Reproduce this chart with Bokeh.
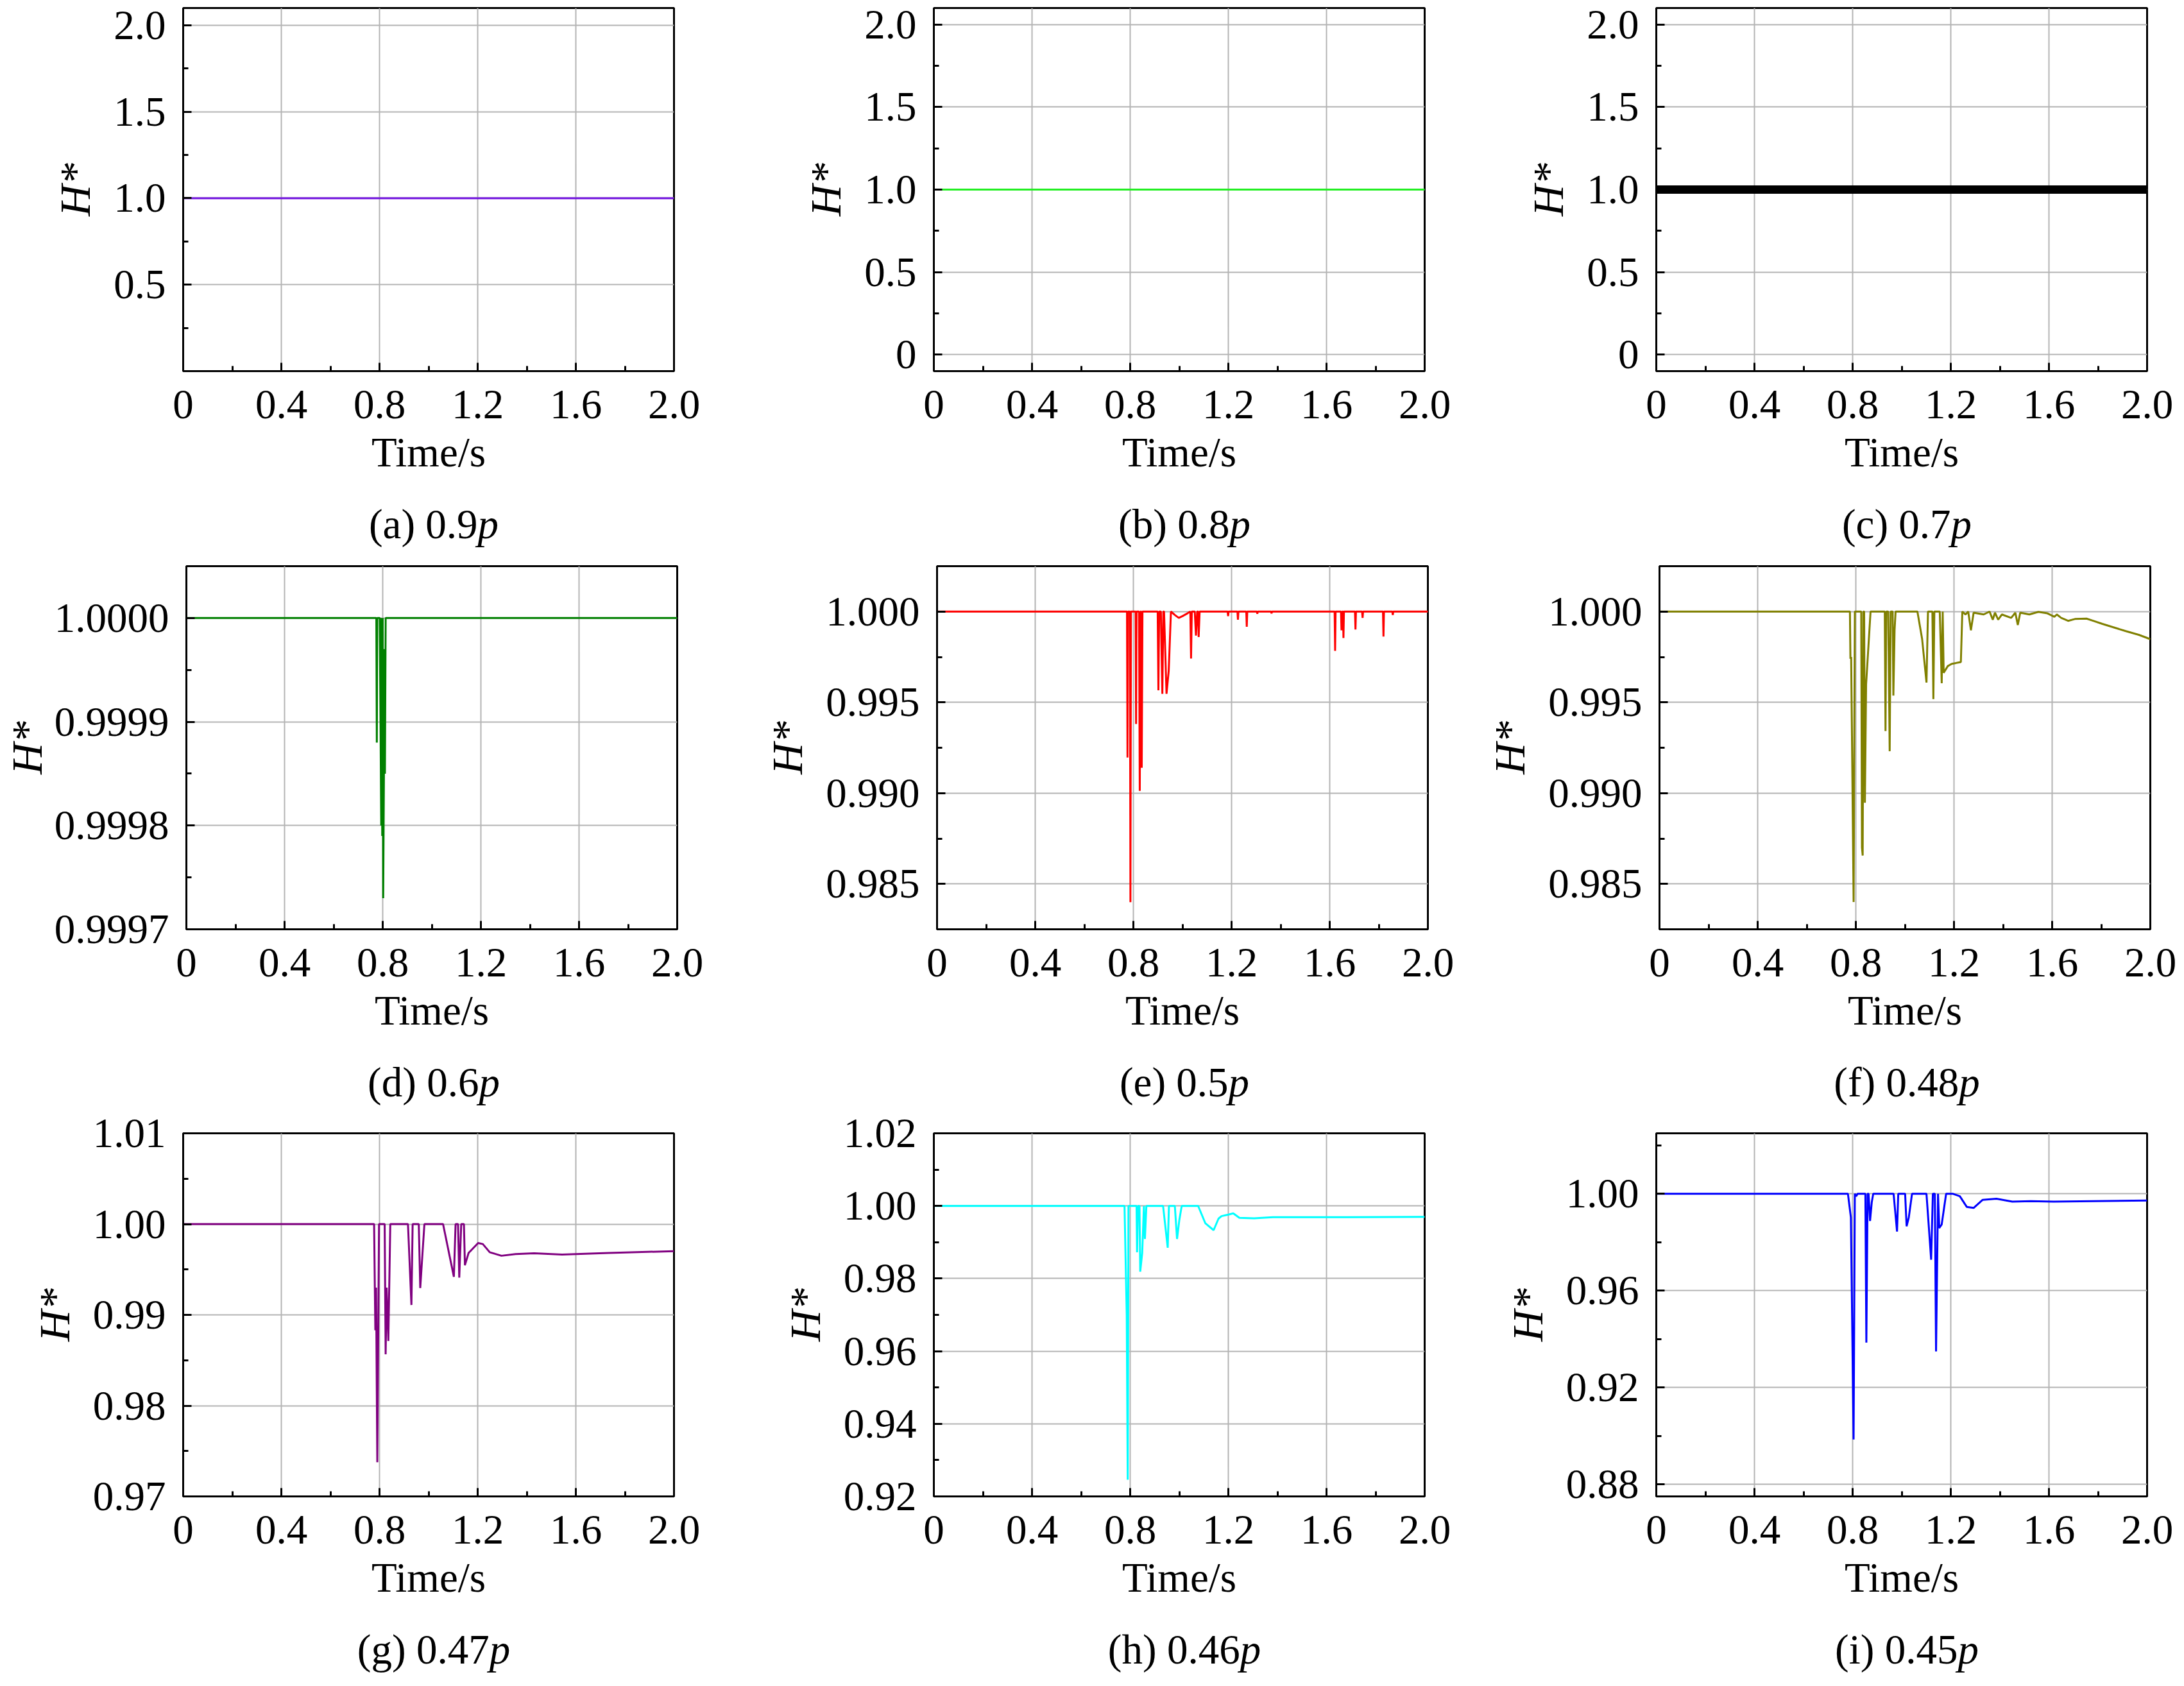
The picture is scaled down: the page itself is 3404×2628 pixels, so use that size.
from bokeh.plotting import figure
from bokeh.models import FixedTicker, Range1d
from bokeh.layouts import column, row
from bokeh.core.properties import value
from bokeh.embed import file_html
from bokeh.resources import INLINE

FONT = "Liberation Serif"

# ---------------- data ----------------
x_ticks = [0, 0.4, 0.8, 1.2, 1.6, 2.0]
x_tick_labels = ["0", "0.4", "0.8", "1.2", "1.6", "2.0"]
x_minor = [0.2, 0.6, 1.0, 1.4, 1.8]

letters = ["a", "b", "c", "d", "e", "f", "g", "h", "i"]
ratios = ["0.9", "0.8", "0.7", "0.6", "0.5", "0.48", "0.47", "0.46", "0.45"]
colors = ["#7010e0", "#22ee22", "#000000", "#008000", "#ff0000",
          "#808000", "#800080", "#00ffff", "#0000ff"]

a_series = [(0.0, 1.0), (2.0, 1.0)]
b_series = [(0.0, 1.0), (2.0, 1.0)]
c_series = [(0.0, 1.0), (2.0, 1.0)]

d_series = [(0.0, 1.0), (0.774, 1.0), (0.776, 0.99988), (0.778, 1.0),
            (0.788, 1.0), (0.791, 0.99990), (0.794, 0.99980), (0.796, 1.0),
            (0.798, 0.99979), (0.800, 1.0), (0.802, 0.99973), (0.805, 0.99985),
            (0.807, 0.99997), (0.809, 0.99985), (0.812, 1.0), (2.0, 1.0)]

e_series = [(0.0, 1.0), (0.774, 1.0), (0.776, 0.99196), (0.778, 1.0),
            (0.786, 1.0), (0.788, 0.98399), (0.790, 1.0),
            (0.809, 1.0), (0.811, 0.99381), (0.813, 1.0),
            (0.823, 1.0), (0.826, 0.99012), (0.829, 1.0), (0.832, 1.0),
            (0.834, 0.99140), (0.837, 1.0),
            (0.899, 1.0), (0.902, 0.99566), (0.905, 1.0), (0.912, 1.0),
            (0.918, 0.99547), (0.922, 1.0), (0.925, 1.0), (0.935, 0.99547),
            (0.944, 0.99673), (0.953, 1.0), (0.970, 0.99980), (0.985, 0.99965),
            (1.000, 0.99975), (1.020, 0.99990), (1.032, 1.0), (1.035, 0.99741),
            (1.038, 1.0), (1.050, 1.0), (1.055, 0.99868), (1.060, 1.0),
            (1.064, 1.0), (1.066, 0.99860), (1.070, 1.0),
            (1.184, 1.0), (1.186, 0.99975), (1.188, 1.0),
            (1.224, 1.0), (1.226, 0.99955), (1.228, 1.0),
            (1.260, 1.0), (1.262, 0.99916), (1.264, 1.0),
            (1.303, 1.0), (1.305, 0.99988), (1.307, 1.0),
            (1.361, 1.0), (1.363, 0.99990), (1.365, 1.0),
            (1.620, 1.0), (1.622, 0.99784), (1.624, 1.0),
            (1.646, 1.0), (1.648, 0.99897), (1.651, 1.0),
            (1.654, 1.0), (1.656, 0.99854), (1.658, 1.0),
            (1.703, 1.0), (1.705, 0.99901), (1.707, 1.0),
            (1.732, 1.0), (1.734, 0.99965), (1.736, 1.0),
            (1.817, 1.0), (1.819, 0.99862), (1.821, 1.0),
            (1.855, 1.0), (1.857, 0.99981), (1.859, 1.0), (2.0, 1.0)]

f_series = [(0.0, 1.0), (0.776, 1.0), (0.778, 0.99740), (0.781, 0.99750),
            (0.791, 0.98400), (0.796, 1.0), (0.822, 1.0), (0.825, 0.98700),
            (0.828, 0.98656), (0.831, 1.0), (0.834, 1.0), (0.837, 0.98947),
            (0.842, 0.99600), (0.860, 1.0), (0.918, 1.0), (0.921, 0.99342),
            (0.924, 1.0), (0.932, 1.0), (0.938, 0.99231), (0.942, 1.0),
            (0.950, 1.0), (0.953, 0.99537), (0.958, 0.99900), (0.962, 1.0),
            (1.051, 1.0), (1.070, 0.99850), (1.088, 0.99609), (1.094, 1.0),
            (1.112, 1.0), (1.116, 0.99518), (1.120, 1.0), (1.142, 1.0),
            (1.150, 0.99605), (1.154, 1.0), (1.158, 0.99663), (1.175, 0.99700),
            (1.191, 0.99712), (1.228, 0.99722), (1.234, 1.0), (1.247, 0.99984),
            (1.258, 1.0), (1.269, 0.99897), (1.280, 0.99994), (1.321, 0.99984),
            (1.345, 1.0), (1.358, 0.99955), (1.367, 0.99994), (1.380, 0.99955),
            (1.395, 0.99984), (1.433, 0.99965), (1.450, 0.99994), (1.460, 0.99926),
            (1.470, 0.99994), (1.507, 0.99984), (1.544, 0.99998), (1.581, 0.99990),
            (1.609, 0.99971), (1.619, 0.99984), (1.637, 0.99965), (1.665, 0.99949),
            (1.693, 0.99959), (1.740, 0.99961), (1.767, 0.99949), (1.805, 0.99932),
            (1.898, 0.99893), (1.953, 0.99872), (2.0, 0.99848)]

g_series = [(0.0, 1.0), (0.778, 1.0), (0.783, 0.98830), (0.786, 0.99300),
            (0.791, 0.97376), (0.798, 1.0), (0.821, 1.0), (0.825, 0.98566),
            (0.829, 0.99300), (0.836, 0.98713), (0.844, 1.0), (0.916, 1.0),
            (0.930, 0.99109), (0.935, 1.0), (0.960, 1.0), (0.966, 0.99295),
            (0.983, 1.0), (1.059, 1.0), (1.103, 0.99419), (1.110, 1.0),
            (1.120, 1.0), (1.125, 0.99411), (1.133, 1.0), (1.144, 1.0),
            (1.148, 0.99547), (1.163, 0.99682), (1.202, 0.99791), (1.221, 0.99780),
            (1.249, 0.99690), (1.297, 0.99651), (1.354, 0.99670), (1.430, 0.99678),
            (1.544, 0.99665), (1.734, 0.99682), (2.0, 0.99702)]

h_series = [(0.0, 1.0), (0.777, 1.0), (0.786, 0.97000), (0.790, 0.92460),
            (0.793, 1.0), (0.826, 1.0), (0.828, 0.98722), (0.832, 1.0),
            (0.838, 1.0), (0.841, 0.98190), (0.849, 0.98703), (0.856, 1.0),
            (0.860, 0.99090), (0.866, 1.0), (0.934, 1.0), (0.953, 0.98848),
            (0.958, 1.0), (0.982, 1.0), (0.991, 0.99090), (1.000, 0.99600),
            (1.010, 1.0), (1.077, 1.0), (1.106, 0.99526), (1.140, 0.99332),
            (1.160, 0.99650), (1.172, 0.99719), (1.200, 0.99760), (1.220, 0.99797),
            (1.245, 0.99671), (1.305, 0.99660), (1.382, 0.99690), (1.686, 0.99690),
            (2.0, 0.99700)]

i_series = [(0.0, 1.0), (0.781, 1.0), (0.793, 0.99024), (0.804, 0.89850),
            (0.809, 1.0), (0.815, 0.99900), (0.820, 1.0), (0.852, 1.0),
            (0.856, 0.93855), (0.861, 1.0), (0.865, 1.0), (0.871, 0.98879),
            (0.878, 0.99650), (0.884, 1.0), (0.967, 1.0), (0.981, 0.98442),
            (0.986, 1.0), (1.014, 1.0), (1.020, 0.98660), (1.029, 0.99024),
            (1.042, 1.0), (1.101, 1.0), (1.120, 0.97277), (1.127, 1.0),
            (1.135, 1.0), (1.140, 0.93491), (1.148, 1.0), (1.153, 0.98588),
            (1.163, 0.98733), (1.181, 1.0), (1.209, 1.0), (1.237, 0.99900),
            (1.265, 0.99461), (1.293, 0.99418), (1.330, 0.99752), (1.386, 0.99796),
            (1.451, 0.99680), (1.526, 0.99695), (1.619, 0.99680), (2.0, 0.99723)]

series = [a_series, b_series, c_series, d_series, e_series,
          f_series, g_series, h_series, i_series]

y_ranges = [(0.0, 2.1), (-0.1, 2.1), (-0.1, 2.1), (0.9997, 1.00005),
            (0.9825, 1.0025), (0.9825, 1.0025), (0.97, 1.01),
            (0.92, 1.02), (0.875, 1.025)]

y_ticks = [
    [0.5, 1.0, 1.5, 2.0],
    [0.0, 0.5, 1.0, 1.5, 2.0],
    [0.0, 0.5, 1.0, 1.5, 2.0],
    [0.9997, 0.9998, 0.9999, 1.0],
    [0.985, 0.99, 0.995, 1.0],
    [0.985, 0.99, 0.995, 1.0],
    [0.97, 0.98, 0.99, 1.0, 1.01],
    [0.92, 0.94, 0.96, 0.98, 1.0, 1.02],
    [0.88, 0.92, 0.96, 1.0],
]
y_tick_labels = [
    ["0.5", "1.0", "1.5", "2.0"],
    ["0", "0.5", "1.0", "1.5", "2.0"],
    ["0", "0.5", "1.0", "1.5", "2.0"],
    ["0.9997", "0.9998", "0.9999", "1.0000"],
    ["0.985", "0.990", "0.995", "1.000"],
    ["0.985", "0.990", "0.995", "1.000"],
    ["0.97", "0.98", "0.99", "1.00", "1.01"],
    ["0.92", "0.94", "0.96", "0.98", "1.00", "1.02"],
    ["0.88", "0.92", "0.96", "1.00"],
]
y_minor = [
    [0.25, 0.75, 1.25, 1.75],
    [0.25, 0.75, 1.25, 1.75],
    [0.25, 0.75, 1.25, 1.75],
    [0.99975, 0.99985, 0.99995],
    [0.9875, 0.9925, 0.9975],
    [0.9875, 0.9925, 0.9975],
    [0.975, 0.985, 0.995, 1.005],
    [0.93, 0.95, 0.97, 0.99, 1.01],
    [0.90, 0.94, 0.98, 1.02],
]
line_widths = [3, 3, 13, 3, 3, 3, 3, 3, 3]

# ---------------- layout / style ----------------
FRAME_W, FRAME_H = 765, 566
col_width = [1163, 1127, 1098]
col_left = [285, 292, 291]
row_top = [12, 24, 38]
ROW_BOTTOM = 192
CAP_H = 88
CAP_CENTER_FROM_TOP = 46

TICK_PX = 65
LABEL_PX = 65
HLABEL_PX = 68

W_REG = {'(': 0.333, ')': 0.333, 'a': 0.444, 'b': 0.5, 'c': 0.444, 'd': 0.5,
         'e': 0.444, 'f': 0.333, 'g': 0.5, 'h': 0.5, 'i': 0.278, ' ': 0.25,
         '.': 0.25}


def text_w(s, px):
    return sum(W_REG.get(ch, 0.5) for ch in s) * px


def make_panel(k):
    r, c = divmod(k, 3)
    y0, y1 = y_ranges[k]
    p = figure(frame_width=FRAME_W, frame_height=FRAME_H,
               min_border_left=col_left[c],
               min_border_right=col_width[c] - col_left[c] - FRAME_W,
               min_border_top=row_top[r], min_border_bottom=ROW_BOTTOM,
               output_backend="svg", toolbar_location=None,
               x_range=Range1d(0, 2.0), y_range=Range1d(y0, y1))
    p.background_fill_color = "white"
    p.border_fill_color = "white"
    p.outline_line_color = "black"
    p.outline_line_width = 3

    ts = [pt[0] for pt in series[k]]
    hs = [pt[1] for pt in series[k]]
    p.line(ts, hs, line_color=colors[k], line_width=line_widths[k])

    xa = p.xaxis[0]
    xa.ticker = FixedTicker(ticks=x_ticks, minor_ticks=x_minor)
    xa.major_label_overrides = {t: l for t, l in zip(x_ticks, x_tick_labels)}
    xa.axis_label = "Time/s"
    ya = p.yaxis[0]
    ya.ticker = FixedTicker(ticks=y_ticks[k], minor_ticks=y_minor[k])
    ya.major_label_overrides = {t: l for t, l in zip(y_ticks[k], y_tick_labels[k])}
    ya.axis_label = "H*"

    for ax in (xa, ya):
        ax.axis_line_color = "black"
        ax.axis_line_width = 3
        ax.major_tick_in = 13
        ax.major_tick_out = 0
        ax.minor_tick_in = 8
        ax.minor_tick_out = 0
        ax.major_tick_line_width = 3
        ax.minor_tick_line_width = 3
        ax.major_label_text_font = FONT
        ax.major_label_text_font_size = f"{TICK_PX}px"
        ax.major_label_text_color = "black"
        ax.axis_label_text_font = FONT
        ax.axis_label_text_font_size = f"{LABEL_PX}px"
        ax.axis_label_text_color = "black"
    xa.axis_label_text_font_style = "normal"
    ya.axis_label_text_font_style = "italic"
    ya.axis_label_text_font_size = f"{HLABEL_PX}px"
    xa.major_label_standoff = 30
    xa.axis_label_standoff = 14
    ya.major_label_standoff = 27
    # keep the y title inside the reserved left border
    wmax = max(text_w(s, TICK_PX) for s in y_tick_labels[k])
    room = col_left[c] - 27 - wmax - HLABEL_PX * 1.12 - 2
    ya.axis_label_standoff = int(max(2, min(19, room)))

    p.xgrid.ticker = FixedTicker(ticks=x_ticks)
    p.ygrid.ticker = FixedTicker(ticks=y_ticks[k])
    for g in (p.xgrid[0], p.ygrid[0]):
        g.grid_line_color = "#b4b4b4"
        g.grid_line_width = 2
    return p


def make_caption(k):
    r, c = divmod(k, 3)
    W, H = col_width[c], CAP_H
    q = figure(width=W, height=H, min_border=0, x_range=Range1d(0, W),
               y_range=Range1d(0, H), x_axis_type=None, y_axis_type=None,
               output_backend="svg", toolbar_location=None)
    q.outline_line_color = None
    q.background_fill_color = "white"
    q.border_fill_color = "white"
    q.grid.visible = False
    main = f"({letters[k]}) {ratios[k]}"
    w1 = text_w(main, LABEL_PX)
    total = w1 + 0.5 * LABEL_PX
    cx = col_left[c] + FRAME_W / 2 + 8
    x0 = cx - total / 2
    yc = H - CAP_CENTER_FROM_TOP
    q.text(x=[x0], y=[yc], text=[main], text_font=value(FONT),
           text_font_size=value(f"{LABEL_PX}px"), text_align="left",
           text_baseline="middle", text_color="black")
    q.text(x=[x0 + w1], y=[yc], text=["p"], text_font=value(FONT),
           text_font_size=value(f"{LABEL_PX}px"), text_font_style="italic",
           text_align="left", text_baseline="middle", text_color="black")
    return q


panels = [make_panel(k) for k in range(9)]
captions = [make_caption(k) for k in range(9)]
rows = []
for r in range(3):
    rows.append(row(*panels[3 * r:3 * r + 3]))
    rows.append(row(*captions[3 * r:3 * r + 3]))
layout = column(*rows)

open("out.html", "w").write(file_html(layout, INLINE))
